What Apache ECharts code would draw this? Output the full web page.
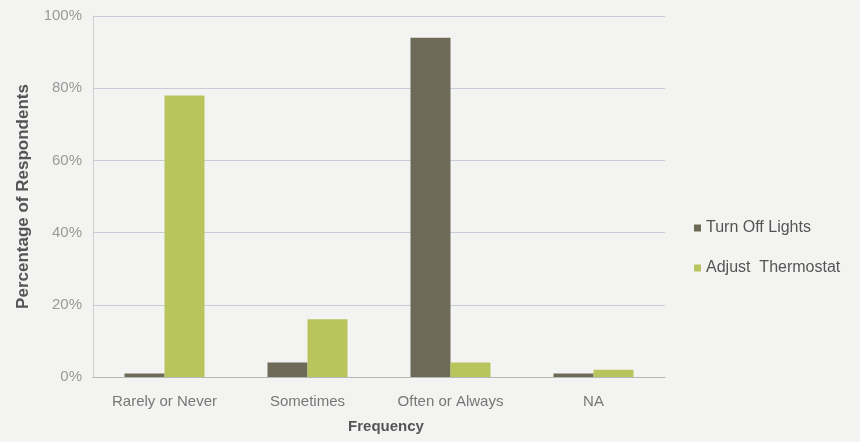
<!DOCTYPE html>
<html>
<head>
<meta charset="utf-8">
<script src="https://cdn.jsdelivr.net/npm/echarts@6/dist/echarts.min.js"></script>
<style>
	html, body { margin: 0; padding: 0; background: #f3f3f1; }
	#chart { width: 860px; height: 442px; }
</style>
</head>
<body>
<div id="chart"></div>
<script>
var categories = ['Rarely or Never', 'Sometimes', 'Often or Always', 'NA'];
var lights = [1, 4, 94, 1];
var thermostat = [78, 16, 4, 2];
var yTicks = [0, 20, 40, 60, 80, 100];

var myChart = echarts.init(document.getElementById('chart'));
var option = {
	backgroundColor: '#f3f3f1',
	textStyle: { fontFamily: 'Liberation Sans, Arial, sans-serif' },
	grid: {
		left: 93,
		right: 195,
		top: 16,
		bottom: 65
	},
	legend: {
		orient: 'vertical',
		left: 689,
		top: 215,
		itemWidth: 7,
		itemHeight: 7,
		itemGap: 24,
		icon: 'rect',
		textStyle: { color: '#555', fontSize: 16 },
		data: ['Turn Off Lights', 'Adjust  Thermostat']
	},
	xAxis: {
		type: 'category',
		data: categories,
		name: 'Frequency',
		nameLocation: 'middle',
		nameGap: 42,
		nameTextStyle: { color: '#555', fontSize: 15, fontWeight: 'bold', padding: [0, 0, 0, 14] },
		axisTick: { show: false },
		axisLine: { lineStyle: { color: '#b8b8b8' } },
		axisLabel: { color: '#777', fontSize: 15, margin: 17 }
	},
	yAxis: {
		type: 'value',
		min: 0,
		max: 100,
		interval: 20,
		name: 'Percentage of Respondents',
		nameLocation: 'middle',
		nameGap: 61,
		nameTextStyle: { color: '#555', fontSize: 17, fontWeight: 'bold' },
		axisLine: { show: true, lineStyle: { color: '#cfcfcf' } },
		axisTick: { show: false },
		axisLabel: {
			color: '#999',
			fontSize: 15,
			margin: 11,
			formatter: function(v) {
				return yTicks.indexOf(v) >= 0 ? v + '%' : '';
			}
		},
		splitLine: { lineStyle: { color: '#c9ccd6' } }
	},
	series: [
		{
			name: 'Turn Off Lights',
			type: 'bar',
			data: lights,
			barWidth: 40,
			barGap: '0%',
			itemStyle: { color: '#6d6b57' }
		},
		{
			name: 'Adjust  Thermostat',
			type: 'bar',
			data: thermostat,
			barWidth: 40,
			itemStyle: { color: '#b7c55c' }
		}
	]
};
myChart.setOption(option);
</script>
</body>
</html>
